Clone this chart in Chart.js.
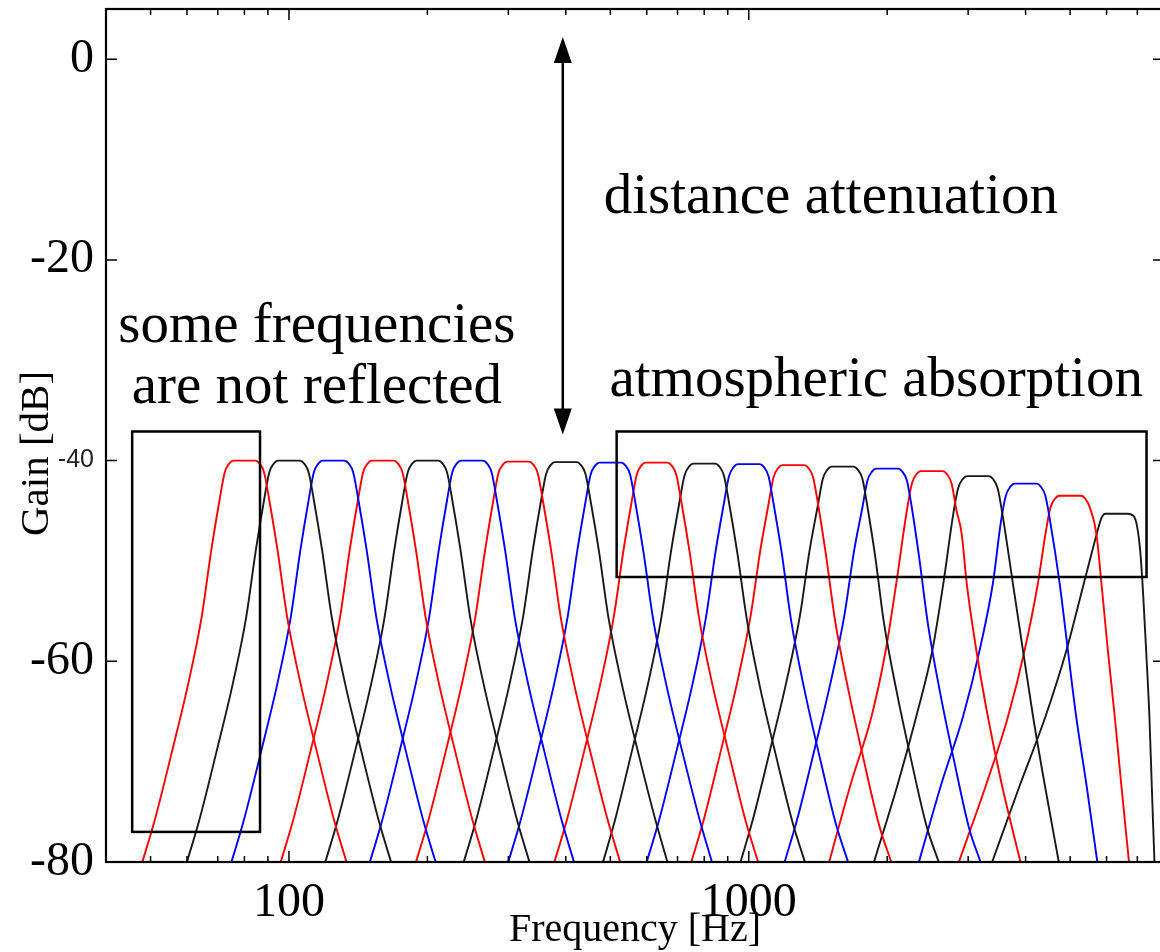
<!doctype html>
<html lang="en">
<head>
<meta charset="utf-8">
<title>Filter bank gain</title>
<script src="https://cdn.jsdelivr.net/npm/chart.js"></script>
<style>
  html, body { margin: 0; padding: 0; background: #fff; overflow: hidden; }
  #chartBox { width: 1170px; height: 952px; }
</style>
</head>
<body>
<div id="chartBox"><canvas id="myChart" width="1170" height="952"></canvas></div>

<script>
// third-octave band centres [Hz]
const bandCentres = [80, 100, 125, 160, 200, 250, 315, 400, 500, 630, 800, 1000, 1250, 1600, 2000, 2500, 3150, 4000, 5000, 6300];

// response of each band: [offset from centre in decades, gain dB]
const bandResponses = [
  [[-0.222,-80],[-0.196,-76],[-0.157,-68.9],[-0.122,-62.2],[-0.093,-55.6],[-0.072,-48.9],[-0.054,-43.9],[-0.043,-41.2],[-0.033,-40.3],[-0.024,-40],[0.024,-40],[0.033,-40.3],[0.043,-41.2],[0.054,-43.9],[0.072,-48.9],[0.093,-55.6],[0.122,-62.2],[0.157,-68.9],[0.196,-76],[0.222,-80]],
  [[-0.222,-80],[-0.196,-76],[-0.157,-68.9],[-0.122,-62.2],[-0.093,-55.6],[-0.072,-48.9],[-0.054,-43.9],[-0.043,-41.2],[-0.033,-40.3],[-0.024,-40],[0.024,-40],[0.033,-40.3],[0.043,-41.2],[0.054,-43.9],[0.072,-48.9],[0.093,-55.6],[0.122,-62.2],[0.157,-68.9],[0.196,-76],[0.222,-80]],
  [[-0.222,-80],[-0.196,-76],[-0.157,-68.9],[-0.122,-62.2],[-0.093,-55.6],[-0.072,-48.9],[-0.054,-43.9],[-0.043,-41.2],[-0.033,-40.3],[-0.024,-40],[0.024,-40],[0.033,-40.3],[0.043,-41.2],[0.054,-43.9],[0.072,-48.9],[0.093,-55.6],[0.122,-62.2],[0.157,-68.9],[0.196,-76],[0.222,-80]],
  [[-0.222,-80],[-0.196,-76],[-0.157,-68.9],[-0.122,-62.2],[-0.093,-55.6],[-0.072,-48.9],[-0.054,-43.9],[-0.043,-41.2],[-0.033,-40.3],[-0.024,-40],[0.024,-40],[0.033,-40.3],[0.043,-41.2],[0.054,-43.9],[0.072,-48.9],[0.093,-55.6],[0.122,-62.2],[0.157,-68.9],[0.196,-76],[0.222,-80]],
  [[-0.222,-80],[-0.196,-76],[-0.157,-68.9],[-0.122,-62.2],[-0.093,-55.6],[-0.072,-48.9],[-0.054,-43.9],[-0.043,-41.2],[-0.033,-40.3],[-0.024,-40],[0.024,-40],[0.033,-40.3],[0.043,-41.2],[0.054,-43.9],[0.072,-48.9],[0.093,-55.6],[0.122,-62.2],[0.157,-68.9],[0.196,-76],[0.222,-80]],
  [[-0.222,-80],[-0.196,-76],[-0.157,-68.9],[-0.122,-62.2],[-0.093,-55.6],[-0.072,-48.9],[-0.054,-43.9],[-0.043,-41.2],[-0.033,-40.3],[-0.024,-40],[0.024,-40],[0.033,-40.3],[0.043,-41.2],[0.054,-43.9],[0.072,-48.9],[0.093,-55.6],[0.122,-62.2],[0.157,-68.9],[0.196,-76],[0.222,-80]],
  [[-0.222,-80],[-0.196,-76],[-0.157,-68.9],[-0.122,-62.2],[-0.093,-55.6],[-0.072,-49],[-0.054,-44],[-0.043,-41.3],[-0.033,-40.4],[-0.024,-40.1],[0.024,-40.1],[0.033,-40.4],[0.043,-41.3],[0.054,-44],[0.072,-49],[0.093,-55.7],[0.122,-62.3],[0.157,-69],[0.196,-76],[0.222,-80]],
  [[-0.222,-80],[-0.196,-76],[-0.157,-68.9],[-0.122,-62.2],[-0.093,-55.6],[-0.072,-49],[-0.054,-44.05],[-0.043,-41.35],[-0.033,-40.45],[-0.024,-40.15],[0.024,-40.15],[0.033,-40.45],[0.043,-41.35],[0.054,-44.05],[0.072,-49],[0.093,-55.7],[0.122,-62.3],[0.157,-69],[0.196,-76],[0.221,-80]],
  [[-0.222,-80],[-0.196,-76],[-0.157,-68.9],[-0.122,-62.2],[-0.093,-55.6],[-0.072,-49],[-0.054,-44.1],[-0.043,-41.4],[-0.033,-40.5],[-0.024,-40.2],[0.024,-40.2],[0.033,-40.5],[0.043,-41.4],[0.054,-44.1],[0.072,-49.1],[0.093,-55.8],[0.122,-62.4],[0.157,-69.1],[0.196,-76.1],[0.221,-80]],
  [[-0.222,-80],[-0.196,-76],[-0.157,-68.9],[-0.122,-62.2],[-0.093,-55.6],[-0.072,-49],[-0.054,-44.1],[-0.043,-41.4],[-0.033,-40.5],[-0.024,-40.2],[0.024,-40.2],[0.033,-40.5],[0.043,-41.4],[0.054,-44.1],[0.072,-49.1],[0.093,-55.8],[0.122,-62.4],[0.157,-69.1],[0.195,-76.1],[0.221,-80]],
  [[-0.220,-80],[-0.195,-76],[-0.157,-68.9],[-0.122,-62.2],[-0.093,-55.6],[-0.072,-49],[-0.054,-44.2],[-0.043,-41.5],[-0.033,-40.6],[-0.024,-40.3],[0.024,-40.3],[0.033,-40.6],[0.043,-41.5],[0.054,-44.2],[0.072,-49.2],[0.093,-55.9],[0.121,-62.5],[0.155,-69.2],[0.193,-76.2],[0.219,-80]],
  [[-0.222,-80],[-0.196,-76],[-0.157,-68.9],[-0.122,-62.2],[-0.093,-55.6],[-0.072,-49],[-0.054,-44.25],[-0.043,-41.55],[-0.033,-40.65],[-0.024,-40.35],[0.024,-40.35],[0.033,-40.65],[0.043,-41.55],[0.054,-44.3],[0.072,-49.3],[0.092,-55.9],[0.120,-62.6],[0.153,-69.3],[0.190,-76.3],[0.216,-80]],
  [[-0.222,-80],[-0.196,-76],[-0.157,-68.8],[-0.122,-62.1],[-0.093,-55.5],[-0.072,-49],[-0.054,-44.35],[-0.043,-41.65],[-0.033,-40.75],[-0.024,-40.45],[0.024,-40.45],[0.033,-40.75],[0.043,-41.65],[0.054,-44.4],[0.071,-49.4],[0.091,-56],[0.119,-62.7],[0.151,-69.4],[0.187,-76.4],[0.213,-80]],
  [[-0.222,-80],[-0.196,-75.9],[-0.157,-68.7],[-0.122,-62],[-0.093,-55.5],[-0.072,-49],[-0.054,-44.5],[-0.043,-41.8],[-0.033,-40.9],[-0.024,-40.6],[0.024,-40.6],[0.033,-40.9],[0.043,-41.8],[0.054,-44.6],[0.071,-49.6],[0.090,-56.2],[0.117,-62.9],[0.148,-69.6],[0.183,-76.5],[0.209,-80]],
  [[-0.223,-80],[-0.196,-75.8],[-0.157,-68.6],[-0.122,-61.9],[-0.093,-55.4],[-0.072,-49],[-0.054,-44.7],[-0.043,-42],[-0.033,-41.1],[-0.024,-40.8],[0.024,-40.8],[0.033,-41.1],[0.043,-42],[0.054,-44.8],[0.070,-49.8],[0.089,-56.4],[0.115,-63.1],[0.145,-69.8],[0.178,-76.6],[0.203,-80]],
  [[-0.223,-80],[-0.176,-72.2],[-0.131,-65.5],[-0.100,-58.9],[-0.077,-52.2],[-0.054,-44.95],[-0.043,-42.25],[-0.033,-41.35],[-0.024,-41.05],[0.024,-41.05],[0.033,-41.35],[0.043,-42.25],[0.054,-45],[0.065,-47.25],[0.076,-52.2],[0.097,-58.9],[0.122,-65.5],[0.152,-72.2],[0.193,-80]],
  [[-0.226,-80],[-0.174,-72.2],[-0.134,-65.5],[-0.099,-58.9],[-0.075,-52.2],[-0.054,-45.45],[-0.043,-42.75],[-0.033,-41.85],[-0.024,-41.55],[0.024,-41.55],[0.033,-41.85],[0.043,-42.75],[0.054,-45.5],[0.076,-52.2],[0.098,-58.9],[0.120,-65.5],[0.145,-72.2],[0.176,-80]],
  [[-0.232,-80],[-0.183,-72.2],[-0.136,-65.5],[-0.100,-58.9],[-0.071,-52.2],[-0.054,-46.2],[-0.043,-43.5],[-0.033,-42.6],[-0.024,-42.3],[0.024,-42.3],[0.033,-42.6],[0.043,-43.5],[0.054,-46.2],[0.074,-52.2],[0.092,-58.9],[0.110,-65.5],[0.132,-72.2],[0.156,-80]],
  [[-0.242,-80],[-0.182,-72.2],[-0.135,-65.5],[-0.099,-58.9],[-0.070,-52.2],[-0.054,-47.4],[-0.043,-44.7],[-0.033,-43.8],[-0.024,-43.5],[0.024,-43.5],[0.033,-43.8],[0.043,-44.7],[0.057,-47.25],[0.068,-52.2],[0.082,-58.9],[0.097,-65.5],[0.111,-72.2],[0.128,-80]],
  [[-0.270,-80],[-0.211,-72.5],[-0.154,-65.5],[-0.109,-59],[-0.072,-52.5],[-0.043,-47.4],[-0.033,-45.8],[-0.024,-45.3],[0.024,-45.3],[0.037,-45.5],[0.045,-46.5],[0.052,-49],[0.058,-53],[0.065,-59],[0.072,-65.5],[0.077,-72.2],[0.083,-80]]
];

// axis ticks
const xLabelTicks = [100, 1000];
const xMinorTicks = [50, 60, 70, 80, 90, 200, 300, 400, 500, 600, 700, 800, 900, 2000, 3000, 4000, 5000, 6000, 7000];
const yTicks = [-80, -60, -40, -20, 0];

// annotations, in data units (Hz, dB)
const arrowFreq = 394, arrowTop = 2.2, arrowBottom = -37.4;
const boxFrom = [45.6, 516], boxTo = [86.5, 7330], boxTop = [-37.1, -37.1], boxBottom = [-77, -51.6];
const noteText = ['distance attenuation', 'some frequencies', 'are not reflected', 'atmospheric absorption'];
const noteFreq = [1508, 115, 115, 1893];
const noteDb = [-15.3, -28.15, -34.25, -33.55];

const lineColours = ['rgb(255,0,0)', 'rgb(25,25,25)', 'rgb(0,0,255)'];
const serif = "'Liberation Serif', 'Times New Roman', serif";

const datasets = bandCentres.map((fc, i) => ({
  label: fc + ' Hz',
  data: bandResponses[i].map(p => ({ x: fc * Math.pow(10, p[0]), y: p[1] })),
  borderColor: lineColours[i % 3],
  borderWidth: 1.9,
  pointRadius: 0,
  fill: false,
  cubicInterpolationMode: 'monotone',
  clip: 0
}));

// frame, inward ticks, arrow, boxes and notes
const decorPlugin = {
  id: 'decor',
  afterDatasetsDraw(chart) {
    const { ctx, chartArea: a, scales: { x, y } } = chart;
    ctx.save();
    ctx.strokeStyle = '#000';
    ctx.lineWidth = 2.2;
    ctx.strokeRect(a.left, a.top, a.right - a.left, a.bottom - a.top);

    ctx.beginPath();
    xLabelTicks.concat(xMinorTicks).forEach(v => {
      const px = x.getPixelForValue(v);
      const len = xLabelTicks.includes(v) ? 11 : 6;
      ctx.moveTo(px, a.bottom); ctx.lineTo(px, a.bottom - len);
      ctx.moveTo(px, a.top); ctx.lineTo(px, a.top + len);
    });
    yTicks.forEach(v => {
      const py = y.getPixelForValue(v);
      ctx.moveTo(a.left, py); ctx.lineTo(a.left + 11, py);
      ctx.moveTo(a.right, py); ctx.lineTo(a.right - 11, py);
    });
    ctx.lineWidth = 1.5;
    ctx.stroke();

    // boxes
    ctx.lineWidth = 2.5;
    boxFrom.forEach((f, i) => {
      const x0 = x.getPixelForValue(f), x1 = x.getPixelForValue(boxTo[i]);
      const y0 = y.getPixelForValue(boxTop[i]), y1 = y.getPixelForValue(boxBottom[i]);
      ctx.strokeRect(x0, y0, x1 - x0, y1 - y0);
    });

    // double arrow
    const ax = x.getPixelForValue(arrowFreq);
    const ay0 = y.getPixelForValue(arrowTop), ay1 = y.getPixelForValue(arrowBottom);
    const headH = 26, headW = 9;
    ctx.lineWidth = 2.5;
    ctx.beginPath();
    ctx.moveTo(ax, ay0 + headH - 2); ctx.lineTo(ax, ay1 - headH + 2);
    ctx.stroke();
    ctx.fillStyle = '#000';
    ctx.beginPath();
    ctx.moveTo(ax, ay0); ctx.lineTo(ax - headW, ay0 + headH); ctx.lineTo(ax + headW, ay0 + headH); ctx.closePath();
    ctx.moveTo(ax, ay1); ctx.lineTo(ax - headW, ay1 - headH); ctx.lineTo(ax + headW, ay1 - headH); ctx.closePath();
    ctx.fill();

    // notes
    ctx.font = '57px ' + serif;
    ctx.textAlign = 'center';
    ctx.textBaseline = 'alphabetic';
    noteText.forEach((t, i) => {
      ctx.fillText(t, x.getPixelForValue(noteFreq[i]), y.getPixelForValue(noteDb[i]));
    });

    // y axis title
    ctx.translate(a.left - 58, (a.top + a.bottom) / 2 + 18);
    ctx.rotate(-Math.PI / 2);
    ctx.font = '41px ' + serif;
    ctx.fillText('Gain [dB]', 0, 0);
    ctx.restore();
  }
};

const myChart = new Chart(document.getElementById('myChart'), {
  type: 'line',
  data: { datasets: datasets },
  options: {
    responsive: false,
    animation: false,
    events: [],
    layout: { padding: { top: 9, right: 6, left: 0, bottom: 0 } },
    plugins: { legend: { display: false }, tooltip: { enabled: false } },
    scales: {
      x: {
        type: 'logarithmic',
        min: 40,
        max: 8000,
        grid: { display: false, drawTicks: false },
        border: { display: false },
        afterBuildTicks: s => { s.ticks = xLabelTicks.map(v => ({ value: v })); },
        afterFit: s => { s.height = 90; s.paddingLeft = 0; s.paddingRight = 0; },
        ticks: {
          autoSkip: false,
          maxRotation: 0,
          padding: 13,
          color: '#000',
          font: { family: serif, size: 48 },
          callback: v => String(v)
        },
        title: {
          display: true,
          text: 'Frequency [Hz]',
          color: '#000',
          font: { family: serif, size: 40, lineHeight: 1 },
          padding: { top: 0, bottom: 2 }
        }
      },
      y: {
        min: -80,
        max: 5,
        grid: { display: false, drawTicks: false },
        border: { display: false },
        afterBuildTicks: s => { s.ticks = yTicks.map(v => ({ value: v })); },
        afterFit: s => { s.width = 106; s.paddingTop = 0; s.paddingBottom = 0; },
        ticks: {
          padding: 12,
          color: c => (c.tick && c.tick.value === -40 ? '#222' : '#000'),
          font: c => (c.tick && c.tick.value === -40
            ? { family: "'Liberation Sans', Arial, sans-serif", size: 25 }
            : { family: serif, size: 48 }),
          callback: v => String(v)
        }
      }
    }
  },
  plugins: [decorPlugin]
});
</script>
</body>
</html>
